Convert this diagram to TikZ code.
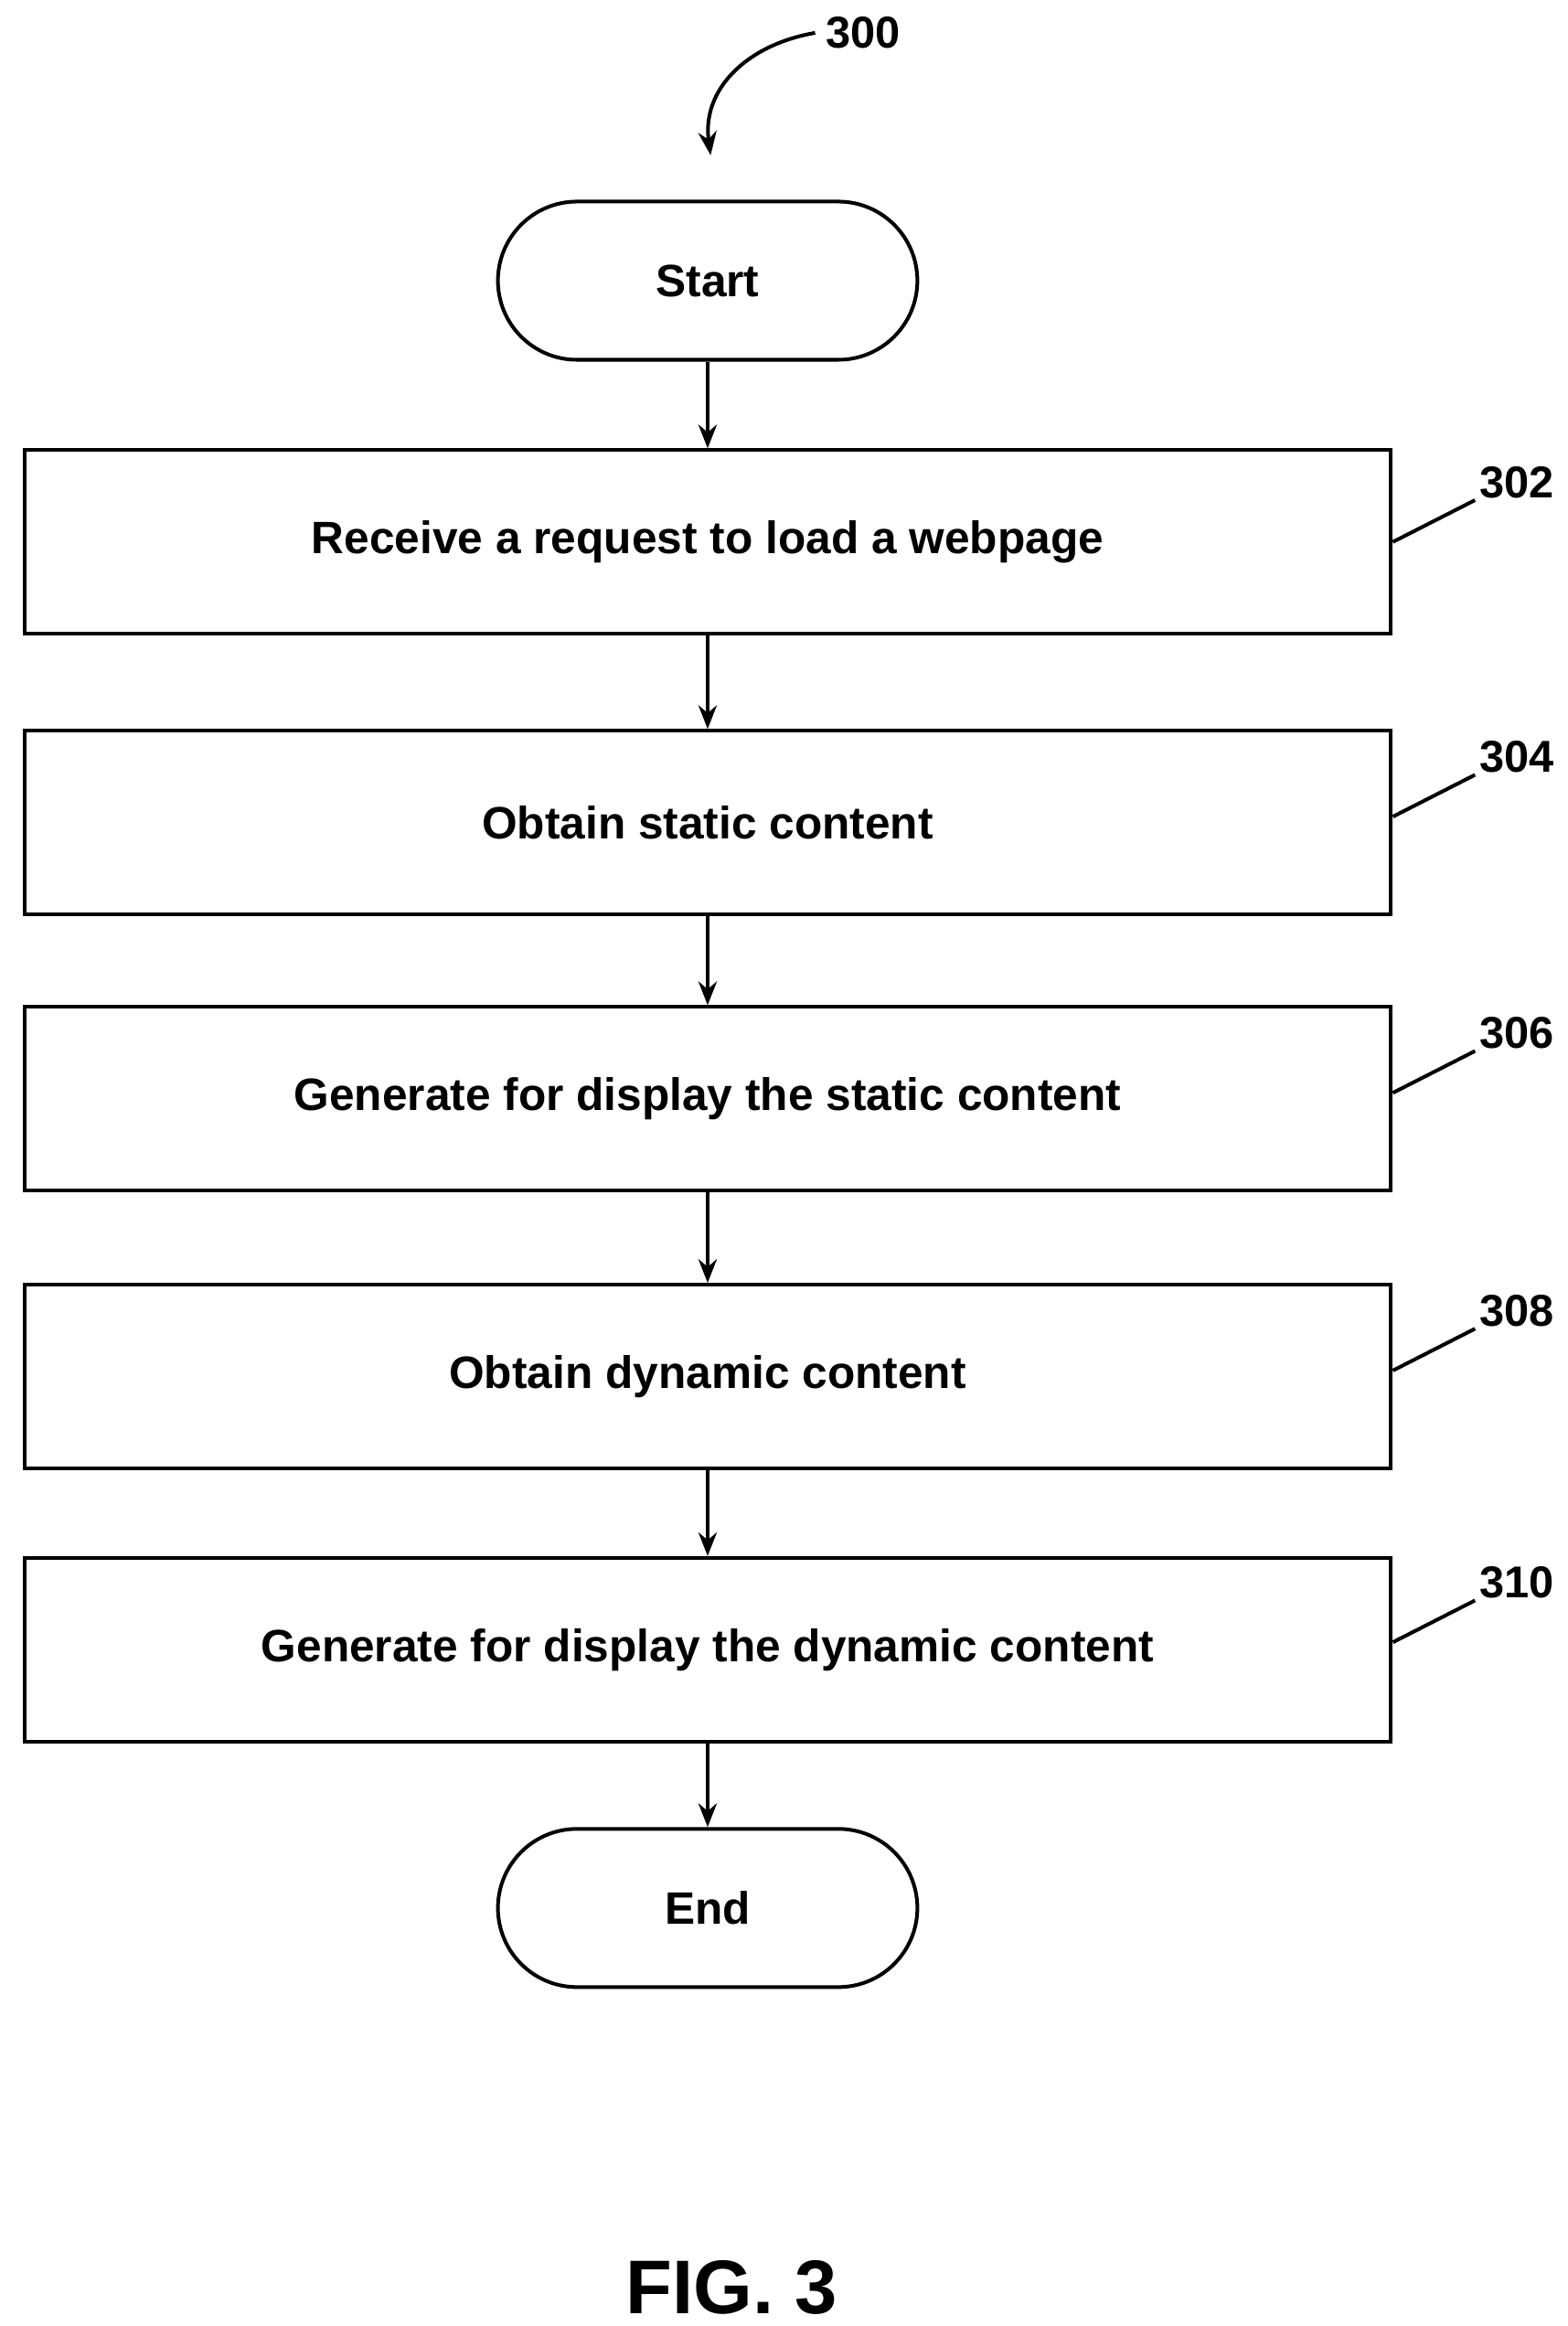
\documentclass[tikz,border=0pt]{standalone}
\usepackage{fontspec}
\setmainfont{Liberation Sans}
\usetikzlibrary{arrows.meta}
\begin{document}
\begin{tikzpicture}[x=0.02cm,y=-0.02cm,
  line width=1.4pt, >={Stealth[length=9pt,width=7pt]},
  box/.style={draw,minimum width=18.3cm,minimum height=2.46cm,font=\fontsize{17.3}{20}\selectfont\bfseries},
  term/.style={draw,rounded corners=1.06cm,minimum width=5.62cm,minimum height=2.12cm,font=\fontsize{17.3}{20}\selectfont\bfseries},
  lab/.style={font=\fontsize{17}{20}\selectfont\bfseries}]
\useasboundingbox (0,0) rectangle (1050,1558);
\node[term] (s) at (474,188) {Start};
\node[box] (b1) at (474,363) {Receive a request to load a webpage};
\node[box] (b2) at (474,551) {Obtain static content};
\node[box] (b3) at (474,736) {Generate for display the static content};
\node[box] (b4) at (474,922) {Obtain dynamic content};
\node[box] (b5) at (474,1105) {Generate for display the dynamic content};
\node[term] (e) at (474,1278) {End};
\foreach \a/\b in {s/b1,b1/b2,b2/b3,b3/b4,b4/b5,b5/e} \draw[->] (\a) -- (\b);
\node[lab] (l300) at (578,22) {300};
\draw[->] (l300.west) .. controls (500,30) and (470,60) .. (476,104);
\foreach \n/\y in {302/323,304/507,306/692,308/878,310/1060}{
  \node[lab] (l\n) at (1016,\y) {\n};
  \draw (933,\y+40) -- (988,\y+12);
}
\node[font=\fontsize{29}{34}\selectfont\bfseries] (fig) at (490,1532) {FIG. 3};
\end{tikzpicture}
\end{document}
